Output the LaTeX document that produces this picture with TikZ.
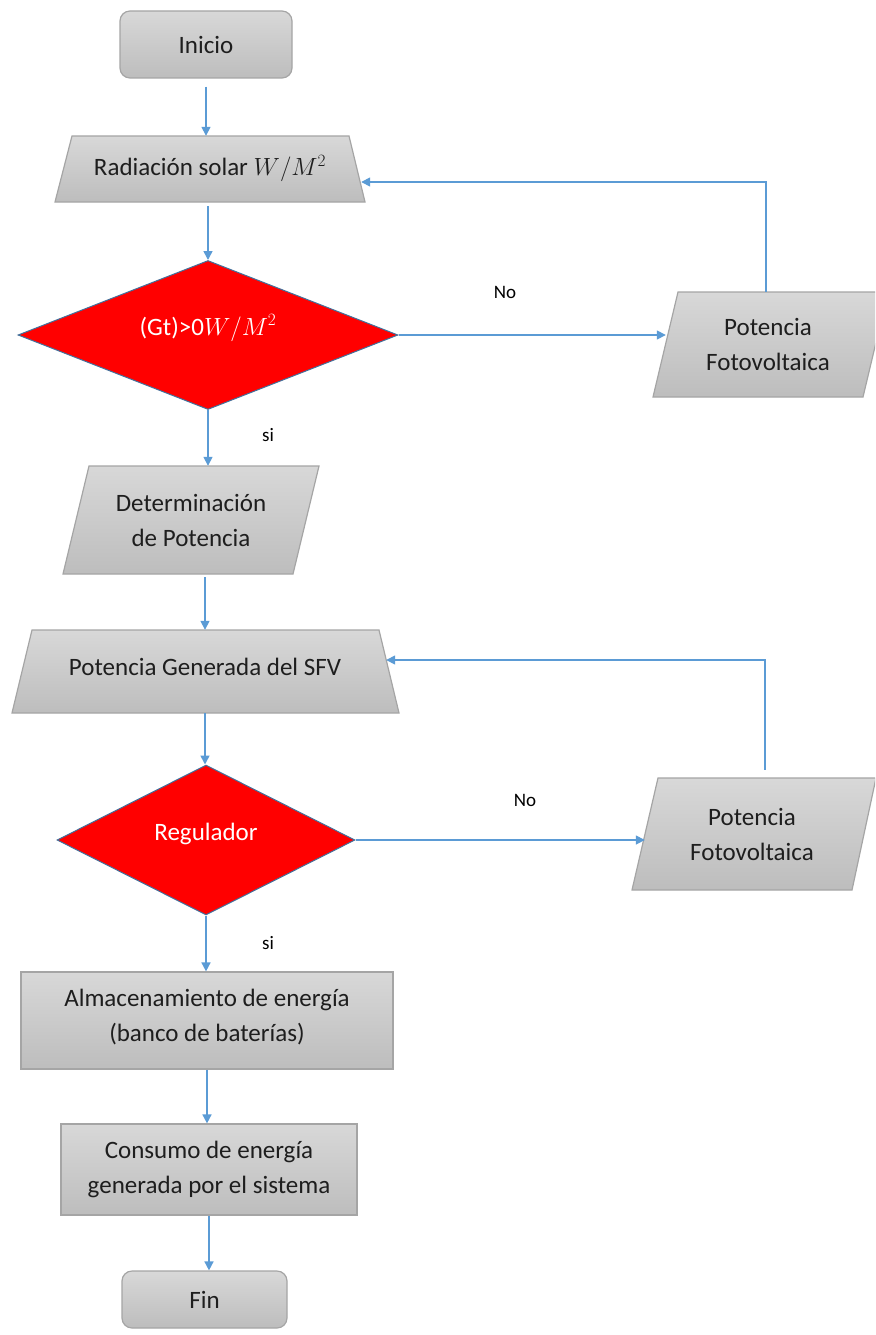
\documentclass[tikz,border=0pt]{standalone}
\usepackage{fontspec}
\setmainfont{Carlito}
\usetikzlibrary{shapes.geometric,arrows.meta,calc}
\definecolor{arrblue}{HTML}{5B9BD5}
\definecolor{gborder}{HTML}{A5A5A5}
\definecolor{gtop}{HTML}{D8D8D8}
\definecolor{gbot}{HTML}{BDBDBD}
\definecolor{dborder}{HTML}{41719C}
\definecolor{txtc}{HTML}{1E1E1E}
\begin{document}
\begin{tikzpicture}[x=1pt,y=-1pt,
  gfill/.style={draw=gborder, line width=1.2pt, top color=gtop, bottom color=gbot},
  term/.style={gfill, rounded corners=10pt, inner sep=0pt, font=\fontsize{25}{35}\selectfont, text=txtc, align=center},
  procbox/.style={gfill, inner sep=0pt, font=\fontsize{25}{35}\selectfont, text=txtc, align=center},
  txt/.style={inner sep=0pt, font=\fontsize{25}{35}\selectfont, text=txtc, align=center},
  dec/.style={diamond, draw=dborder, line width=1pt, fill=red, inner sep=0pt, font=\fontsize{25}{35}\selectfont, text=white},
  arr/.style={draw=arrblue, line width=1.6pt, -{Triangle[length=9pt,width=9pt]}},
  lab/.style={font=\fontsize{19}{22}\selectfont, text=black, inner sep=0pt}
]
\useasboundingbox (0,0) rectangle (875,1335);
\clip (0,0) rectangle (875,1335);

% shapes drawn as paths
\path[gfill] (72,136) -- (349,136) -- (365,202) -- (55,202) -- cycle;
\path[gfill] (678,292) -- (888,292) -- (863,397) -- (653,397) -- cycle;
\path[gfill] (89,466) -- (319,466) -- (293,574) -- (63,574) -- cycle;
\path[gfill] (32,630) -- (379,630) -- (399,713) -- (12,713) -- cycle;
\path[gfill] (658,778) -- (876,778) -- (852,890) -- (632,890) -- cycle;

% nodes
\node[term, minimum width=172pt, minimum height=67pt] (ini) at (206,44.5) {Inicio};
\node[txt, minimum width=302pt, minimum height=66pt] (rad) at (210,169) {Radiación solar $W/M^2$};
\node[dec, minimum width=380pt, minimum height=149pt] (d1) at (208,335) {\raisebox{0pt}[0pt][0pt]{(Gt)>0$W/M^2$}};
\node[txt, minimum width=204pt, minimum height=105pt] (pf1) at (768,344.5) {Potencia\\Fotovoltaica};
\node[txt, minimum width=230pt, minimum height=108pt] (det) at (191,520) {Determinación\\de Potencia};
\node[txt, minimum width=362pt, minimum height=83pt] (gen) at (205,671.5) {Potencia Generada del SFV\rule[-10pt]{0pt}{0pt}};
\node[dec, minimum width=298pt, minimum height=150pt] (d2) at (206,840) {\raisebox{0pt}[0pt][0pt]{Regulador}};
\node[txt, minimum width=214pt, minimum height=112pt] (pf2) at (752,834) {Potencia\\Fotovoltaica};
\node[procbox, minimum width=372pt, minimum height=97pt] (alm) at (207,1020.5) {Almacenamiento de energía\\(banco de baterías)\rule[-10pt]{0pt}{0pt}};
\node[procbox, minimum width=296pt, minimum height=91pt] (cons) at (209,1169.5) {Consumo de energía\\generada por el sistema};
\node[term, minimum width=165pt, minimum height=57pt] (fin) at (204.5,1299.5) {Fin};

% labels
\node[lab] (no1) at (505,292) {No};
\node[lab] (si1) at (268,435) {si};
\node[lab] (no2) at (525,800) {No};
\node[lab] (si2) at (268,943) {si};

% connectors
\draw[arr, shorten <=8pt] (ini.south) -- (ini.south |- rad.north);
\draw[arr, shorten <=4pt] (d1.north |- rad.south) -- (d1.north);
\draw[arr] (d1.east) -- (d1.east -| pf1.west);
\draw[arr] ([xshift=-2pt]pf1.north) |- ([yshift=-13pt]rad.east);
\draw[arr] (d1.south) -- (d1.south |- det.north);
\draw[arr, shorten <=3pt] (det.south -| gen.north) -- (gen.north);
\draw[arr] (gen.south) -- (gen.south |- d2.north);
\draw[arr] (d2.east) -- (d2.east -| pf2.west);
\draw[arr, shorten <=8pt] ([xshift=13pt]pf2.north) |- ([yshift=11.5pt]gen.east);
\draw[arr] (d2.south) -- (d2.south |- alm.north);
\draw[arr] (alm.south) -- (alm.south |- cons.north);
\draw[arr] (cons.south) -- (cons.south |- fin.north);
\end{tikzpicture}
\end{document}
